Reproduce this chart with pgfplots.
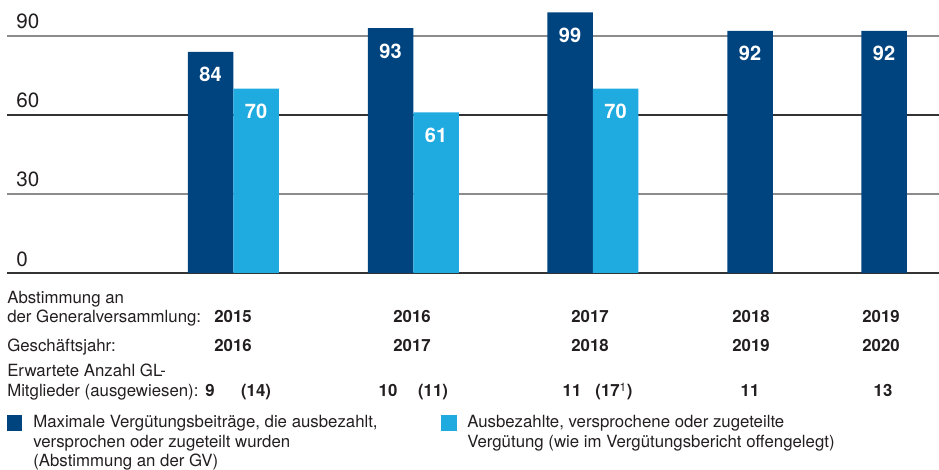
\documentclass[border=0pt]{standalone}
\usepackage{pgfplots}
\pgfplotsset{compat=1.18}
\usepackage{fontspec}
\setmainfont{TeX Gyre Heros}
\definecolor{dblue}{HTML}{00447F}
\definecolor{lblue}{HTML}{1FAAE0}
\definecolor{gridg}{HTML}{8C8C8C}
\definecolor{gridd}{HTML}{333333}
\definecolor{txt}{HTML}{231F20}
\newcommand{\tk}{\fontsize{15.5}{18}\selectfont}
\newcommand{\tb}{\fontsize{12.6}{15}\selectfont}
\begin{document}
\begin{tikzpicture}
\useasboundingbox (0,0) rectangle (704.25pt,-352.5pt);
\begin{scope}[x=0.75pt,y=-0.75pt]
\draw[gridg, line width=1.1pt] (7,36) -- (939,36);
\draw[gridd, line width=1.1pt] (7,115) -- (939,115);
\draw[gridg, line width=1.1pt] (7,194) -- (939,194);
\draw[gridd, line width=1.1pt] (7,273) -- (939,273);
\end{scope}
\begin{axis}[at={(5.25pt,-204.75pt)}, anchor=south west, scale only axis,
  width=699pt, height=204.75pt, xmin=7, xmax=939, ymin=0, ymax=103.68,
  hide axis, clip=false,
  /pgf/number format/assume math mode=true,
  nodes near coords,
  every node near coord/.append style={anchor=north, inner sep=0pt, yshift=-11.5pt, text=white, font=\fontsize{15}{15}\selectfont\bfseries}]
\addplot[ybar, bar width=45.5, bar shift=0pt, fill=dblue, draw=none] coordinates {(210.5,84) (390.5,93) (570,99) (750,92) (884,92)};
\addplot[ybar, bar width=45.5, bar shift=0pt, fill=lblue, draw=none] coordinates {(256,70) (436,61) (615.5,70)};
\end{axis}
\begin{scope}[x=0.75pt,y=-0.75pt, every node/.style={inner sep=0pt, text=txt}]
\node[anchor=base west, font=\tk] at (16,28.5) {90};
\node[anchor=base west, font=\tk] at (16,107.5) {60};
\node[anchor=base west, font=\tk] at (16,187) {30};
\node[anchor=base west, font=\tk] at (16,266.5) {0};
% table
\node[anchor=base west, font=\tb] at (7,304) {Abstimmung an};
\node[anchor=base west, font=\tb] at (7,323) {der Generalversammlung:};
\node[anchor=base, font=\tb\bfseries] at (233,323) {2015};
\node[anchor=base, font=\tb\bfseries] at (412,323) {2016};
\node[anchor=base, font=\tb\bfseries] at (590,323) {2017};
\node[anchor=base, font=\tb\bfseries] at (751,323) {2018};
\node[anchor=base, font=\tb\bfseries] at (881,323) {2019};
\node[anchor=base west, font=\tb] at (7,351) {Geschäftsjahr:};
\node[anchor=base, font=\tb\bfseries] at (233,351) {2016};
\node[anchor=base, font=\tb\bfseries] at (412,351) {2017};
\node[anchor=base, font=\tb\bfseries] at (590,351) {2018};
\node[anchor=base, font=\tb\bfseries] at (751,351) {2019};
\node[anchor=base, font=\tb\bfseries] at (881,351) {2020};
\node[anchor=base west, font=\tb] at (7,377) {Erwartete Anzahl GL-};
\node[anchor=base west, font=\tb] at (7,397) {Mitglieder (ausgewiesen):};
\node[anchor=base, font=\tb\bfseries] at (210,397) {9};
\node[anchor=base, font=\tb\bfseries] at (256,397) {(14)};
\node[anchor=base, font=\tb\bfseries] at (388,397) {10};
\node[anchor=base, font=\tb\bfseries] at (433,397) {(11)};
\node[anchor=base, font=\tb\bfseries] at (572,397) {11};
\node[anchor=base, font=\tb\bfseries] at (614,397) {(17\textsuperscript{\mdseries 1})};
\node[anchor=base, font=\tb\bfseries] at (750,397) {11};
\node[anchor=base, font=\tb\bfseries] at (883,397) {13};
% legend
\fill[dblue] (7,415) rectangle (22,431);
\fill[lblue] (441,415) rectangle (457,431);
\node[anchor=base west, font=\tb] at (33,427) {Maximale Vergütungsbeiträge, die ausbezahlt,};
\node[anchor=base west, font=\tb] at (33,447) {versprochen oder zugeteilt wurden};
\node[anchor=base west, font=\tb] at (33,466) {(Abstimmung an der GV)};
\node[anchor=base west, font=\tb] at (467,427) {Ausbezahlte, versprochene oder zugeteilte};
\node[anchor=base west, font=\tb] at (467,447) {Vergütung (wie im Vergütungsbericht offengelegt)};
\end{scope}
\end{tikzpicture}
\end{document}
